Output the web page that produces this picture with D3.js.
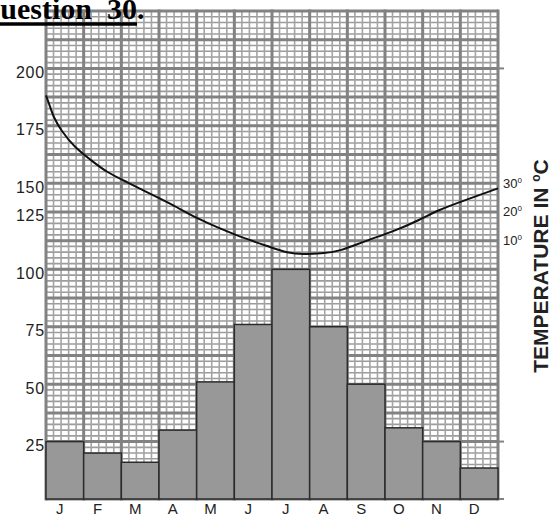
<!DOCTYPE html>
<html>
<head>
<meta charset="utf-8">
<script src="https://cdn.jsdelivr.net/npm/d3@7"></script>
<style>
  body { margin: 0; background: white; }
  svg { display: block; }
</style>
</head>
<body>
<div class="svg-wrap"></div>
<script>
const width = 552;
const height = 521;

// data
const months = ["J", "F", "M", "A", "M", "J", "J", "A", "S", "O", "N", "D"];
const rainfall = [25, 20, 16, 30, 51, 76, 100, 75, 50, 31, 25, 13.5];

// temperature curve: position along the month axis (0..12) and reading
const tempPos = [0, 0.1, 0.2, 0.4, 0.75, 1.2, 1.6, 2.15, 2.75, 3.4, 4.0, 5.05, 5.95, 6.4, 6.85, 7.3, 7.8, 8.4, 9.3, 9.9, 10.4, 11.1, 12];
const tempVals = [60.6, 57, 53, 48.4, 42.6, 38, 33.9, 30.4, 26.4, 22.3, 17.7, 11.8, 7.8, 5.7, 5.2, 5.5, 6.3, 9.5, 13.6, 17.1, 20.6, 24, 28.2];

const rainTickValues = [25, 50, 75, 100, 125, 137.5, 162.5, 187.5];
const rainTickLabels = ["25", "50", "75", "100", "125", "150", "175", "200"];
const tempTickValues = [10, 20, 30];
const tempTickLabels = ["10", "20", "30"];
const rightTickValues = [0, 25, 187.5];

const plotLeft = 46, plotRight = 498, plotTop = 11, plotBottom = 499;

let svg = d3.select(".svg-wrap")
  .append("svg")
  .attr("width", width)
  .attr("height", height)
  .style("background-color", "white");

let scaleX = d3.scaleLinear().domain([0, 12]).range([plotLeft, plotRight]);
let scaleBand = d3.scaleBand().domain(d3.range(12)).range([plotLeft, plotRight]).paddingInner(0);
let scaleY = d3.scaleLinear().domain([0, 212.5]).range([plotBottom, plotTop]);
let scaleT = d3.scaleLinear().domain([0, 30]).range([scaleY(100), scaleY(137.5)]);

drawGrid();
drawBars();
drawTemperature();
drawLabels();

function drawGrid(){
  let g = svg.append("g").attr("class", "grid");

  // minor lines
  g.selectAll(".minor-h")
    .data(d3.range(0, 212.5 + 0.01, 2.5))
    .enter().append("line")
    .attr("x1", plotLeft).attr("x2", plotRight)
    .attr("y1", d => scaleY(d)).attr("y2", d => scaleY(d))
    .style("stroke", "#9c9c9c").style("stroke-width", 1.6);

  g.selectAll(".minor-v")
    .data(d3.range(0, 12.001, 0.2))
    .enter().append("line")
    .attr("x1", d => scaleX(d)).attr("x2", d => scaleX(d))
    .attr("y1", plotTop).attr("y2", plotBottom)
    .style("stroke", "#a4a4a4").style("stroke-width", 1.6);

  // major lines
  g.selectAll(".major-h")
    .data(d3.range(0, 212.5 + 0.01, 12.5))
    .enter().append("line")
    .attr("x1", plotLeft).attr("x2", plotRight)
    .attr("y1", d => scaleY(d)).attr("y2", d => scaleY(d))
    .style("stroke", "#828282").style("stroke-width", 3);

  g.selectAll(".major-v")
    .data(d3.range(0, 13))
    .enter().append("line")
    .attr("x1", d => scaleX(d)).attr("x2", d => scaleX(d))
    .attr("y1", plotTop - 1.5).attr("y2", plotBottom + 1.5)
    .style("stroke", "#828282").style("stroke-width", 3);

  // small ticks sticking out on the right
  g.selectAll(".rtick")
    .data(rightTickValues)
    .enter().append("line")
    .attr("x1", plotRight).attr("x2", plotRight + 6)
    .attr("y1", d => scaleY(d)).attr("y2", d => scaleY(d))
    .style("stroke", "#828282").style("stroke-width", 2);
}

function drawBars(){
  svg.append("g")
    .selectAll("rect")
    .data(rainfall)
    .enter()
    .append("rect")
    .attr("x", (d, i) => scaleBand(i))
    .attr("y", d => scaleY(d))
    .attr("width", scaleBand.bandwidth())
    .attr("height", d => plotBottom - scaleY(d))
    .style("fill", "#989898")
    .style("stroke", "#2b2b2b")
    .style("stroke-width", 1.5);
}

function drawTemperature(){
  let line = d3.line()
    .x(d => scaleX(d[0]))
    .y(d => scaleT(d[1]))
    .curve(d3.curveBasis);

  svg.append("path")
    .datum(tempPos.map((p, i) => [p, tempVals[i]]))
    .attr("d", line)
    .style("fill", "none")
    .style("stroke", "#111")
    .style("stroke-width", 2);
}

function drawLabels(){
  // left rainfall labels
  svg.append("g")
    .selectAll("text")
    .data(rainTickValues)
    .enter().append("text")
    .attr("x", plotLeft - 1)
    .attr("y", d => scaleY(d) + 9.5)
    .attr("text-anchor", "end")
    .style("font-family", "Liberation Sans, Arial, sans-serif")
    .style("font-size", "16px")
    .style("letter-spacing", "0.8px")
    .style("fill", "#222")
    .text((d, i) => rainTickLabels[i]);

  // month labels
  svg.append("g")
    .selectAll("text")
    .data(months)
    .enter().append("text")
    .attr("x", (d, i) => scaleBand(i) + scaleBand.bandwidth() / 2 - 5)
    .attr("y", 514)
    .attr("text-anchor", "middle")
    .style("font-family", "Liberation Sans, Arial, sans-serif")
    .style("font-size", "15px")
    .style("fill", "#222")
    .text(d => d);

  // right temperature labels
  let rt = svg.append("g")
    .selectAll("text")
    .data(tempTickValues)
    .enter().append("text")
    .attr("x", plotRight + 5)
    .attr("y", d => scaleT(d) + 4.5)
    .style("font-family", "Liberation Sans, Arial, sans-serif")
    .style("font-size", "13px")
    .style("fill", "#222");
  rt.append("tspan").text((d, i) => tempTickLabels[i]);
  rt.append("tspan").attr("dy", -5).style("font-size", "8px").text("0");

  // rotated title
  let title = svg.append("text")
    .attr("transform", "translate(548, 266) rotate(-90)")
    .attr("text-anchor", "middle")
    .style("font-family", "Liberation Sans, Arial, sans-serif")
    .style("font-weight", "bold")
    .style("font-size", "21px")
    .style("fill", "#222");
  title.append("tspan").text("TEMPERATURE IN ");
  title.append("tspan").attr("dy", -8).style("font-size", "12px").text("o");
  title.append("tspan").attr("dy", 8).text("C");

  // question heading, cut off at the left edge as in the original scan
  svg.append("text")
    .attr("x", -23)
    .attr("y", 19)
    .style("font-family", "Liberation Serif, Times New Roman, serif")
    .style("font-weight", "bold")
    .style("font-size", "30px")
    .style("fill", "#000")
    .text("Question\u00a0 30.");

  svg.append("line")
    .attr("x1", 0).attr("x2", 137)
    .attr("y1", 24).attr("y2", 24)
    .style("stroke", "#000")
    .style("stroke-width", 3.5);
}
</script>
</body>
</html>
